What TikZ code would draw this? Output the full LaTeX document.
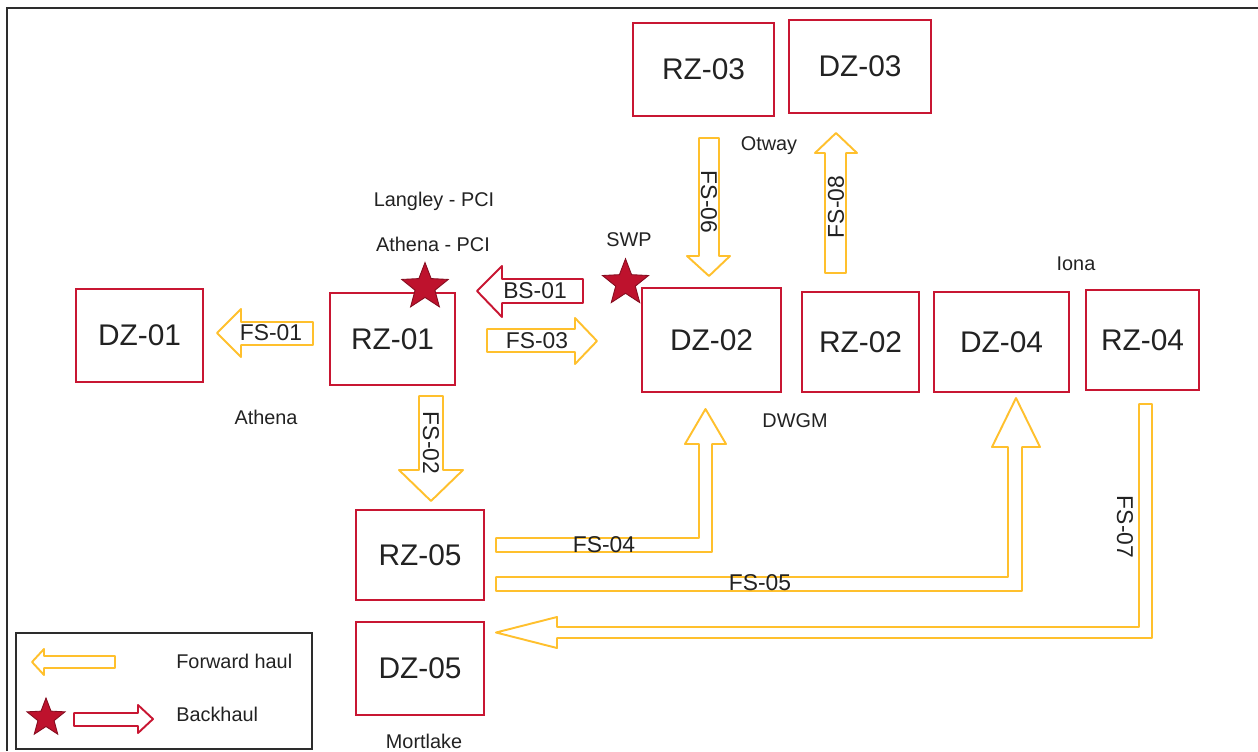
\documentclass[tikz,border=0pt]{standalone}
\usepackage{fontspec}
\setmainfont{Liberation Sans}
\usetikzlibrary{shapes.geometric}
\definecolor{zone}{RGB}{200,22,50}
\definecolor{haul}{RGB}{255,192,45}
\definecolor{starred}{RGB}{190,18,45}
\definecolor{ink}{RGB}{34,34,34}
\definecolor{framegray}{RGB}{45,45,45}

\begin{document}
\begin{tikzpicture}[x=0.02cm, y=-0.02cm, text=ink,
  font=\fontsize{11.3}{13}\selectfont,
  zone/.style={draw=zone, line width=1.1pt, inner sep=0pt, font=\fontsize{17}{20}\selectfont},
  fwd/.style={draw=haul, line width=1.1pt, line join=round},
  bwd/.style={draw=zone, line width=1.1pt, line join=round},
  tag/.style={font=\fontsize{13}{15}\selectfont, inner sep=0pt},
  redstar/.style={star, star points=5, star point ratio=2.35, fill=starred,
    draw=starred!70!black, line width=0.5pt, inner sep=0pt}]
  \useasboundingbox (0,0) rectangle (1258,751);
  % outer frame
  \draw[framegray, line width=1.4pt] (7,751) -- (7,8) -- (1258,8);
  % zone boxes
  \foreach \n/\x/\y/\w/\h/\t in {dz01/139.5/335.5/127/93/DZ-01, rz01/392.5/339/125/92/RZ-01,
      dz02/711.5/340/139/104/DZ-02, rz02/860.5/342/117/100/RZ-02,
      dz04/1001.5/342/135/100/DZ-04, rz04/1142.5/340/113/100/RZ-04,
      rz03/703.5/69.5/141/93/RZ-03, dz03/860/66.5/142/93/DZ-03,
      rz05/420/555/128/90/RZ-05, dz05/420/668.5/128/93/DZ-05} {
    \node[zone, minimum width=\w*0.02cm, minimum height=\h*0.02cm] (\n) at (\x,\y) {\t};
  }
  % site names
  \foreach \n/\x/\y/\t in {langley/434/206.5/Langley - PCI, athpci/433/251.5/Athena - PCI,
      swp/629/246.5/SWP, otway/769/150/Otway, iona/1076/270/Iona,
      dwgm/795/427/DWGM, athena/266/424/Athena, mortlake/424/748/Mortlake} {
    \node[anchor=base] (\n) at (\x,\y) {\t};
  }
  % forward haul arrows
  \draw[fwd] (313,322) -- (241,322) -- (241,309) -- (217,333) -- (241,357) -- (241,345) -- (313,345) -- cycle;
  \node[tag] (fs01) at (271,333) {FS-01};
  \draw[fwd] (487,329) -- (575,329) -- (575,318) -- (597,341) -- (575,364) -- (575,352) -- (487,352) -- cycle;
  \node[tag] (fs03) at (537,341) {FS-03};
  \draw[fwd] (419,396) -- (443,396) -- (443,470) -- (463,470) -- (431,501) -- (399,470) -- (419,470) -- cycle;
  \node[tag, rotate=-90] (fs02) at (431,443) {FS-02};
  \draw[fwd] (699,138) -- (719,138) -- (719,256) -- (730,256) -- (709,276) -- (687,256) -- (699,256) -- cycle;
  \node[tag, rotate=-90] (fs06) at (709,202) {FS-06};
  \draw[fwd] (825,273) -- (846,273) -- (846,153) -- (857,153) -- (836,133) -- (815,153) -- (825,153) -- cycle;
  \node[tag, rotate=90] (fs08) at (836,207) {FS-08};
  \draw[fwd] (496,538) -- (699,538) -- (699,444) -- (685,444) -- (705.5,409) -- (726,444) -- (712,444) -- (712,552) -- (496,552) -- cycle;
  \node[tag] (fs04) at (604,545) {FS-04};
  \draw[fwd] (496,577) -- (1008,577) -- (1008,447) -- (992,447) -- (1016,398) -- (1040,447) -- (1022,447) -- (1022,591) -- (496,591) -- cycle;
  \node[tag] (fs05) at (760,583) {FS-05};
  \draw[fwd] (1139,404) -- (1152,404) -- (1152,638) -- (557,638) -- (557,648) -- (496,632.5) -- (557,617) -- (557,627) -- (1139,627) -- cycle;
  \node[tag, rotate=-90] (fs07) at (1125,527) {FS-07};
  % backhaul
  \draw[bwd] (583,279) -- (502,279) -- (502,266) -- (477,291) -- (502,317) -- (502,303) -- (583,303) -- cycle;
  \node[tag] (bs01) at (535,291) {BS-01};
  \node[redstar, minimum size=0.98cm] (star1) at (425,287) {};
  \node[redstar, minimum size=0.97cm] (star2) at (625.5,283) {};
  % legend
  \draw[framegray, line width=1.1pt] (16,633) rectangle (312,749);
  \draw[fwd] (115,656) -- (44,656) -- (44,649) -- (32,662) -- (44,675) -- (44,668) -- (115,668) -- cycle;
  \node[anchor=base west, inner sep=0pt] (fwdkey) at (176,668) {Forward haul};
  \node[redstar, minimum size=0.8cm] (starkey) at (46,718) {};
  \draw[bwd] (74,713) -- (138,713) -- (138,705) -- (153,719) -- (138,733) -- (138,726) -- (74,726) -- cycle;
  \node[anchor=base west, inner sep=0pt] (bwdkey) at (176,721) {Backhaul};
\end{tikzpicture}
\end{document}
